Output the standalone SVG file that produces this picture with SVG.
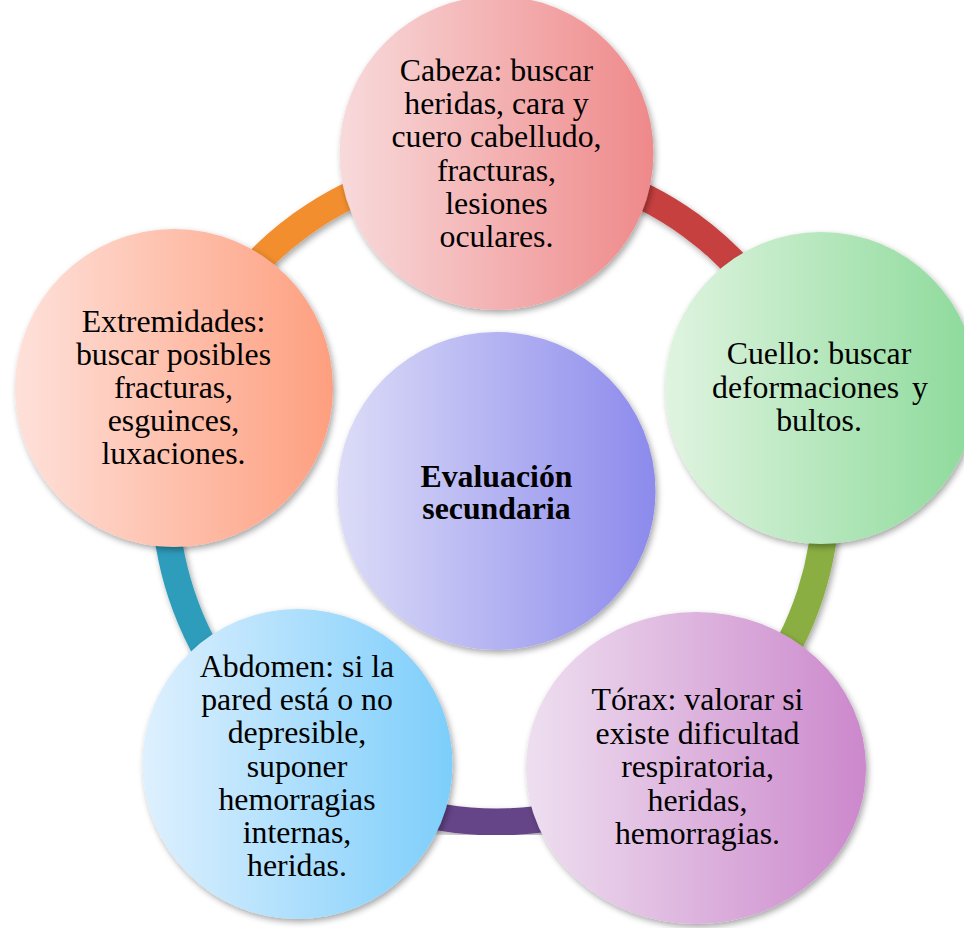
<svg xmlns="http://www.w3.org/2000/svg" width="964" height="928" viewBox="0 0 964 928">
  <defs>
    <filter id="sh" x="-20%" y="-20%" width="140%" height="140%">
      <feDropShadow dx="2" dy="3" stdDeviation="3" flood-color="#000" flood-opacity="0.35"/>
    </filter>
    <linearGradient id="gTop" x1="0" y1="0" x2="1" y2="0">
      <stop offset="0" stop-color="#f8dadb"/><stop offset="1" stop-color="#ef898a"/>
    </linearGradient>
    <linearGradient id="gRight" x1="0" y1="0" x2="1" y2="0">
      <stop offset="0" stop-color="#e0f4e0"/><stop offset="1" stop-color="#8cda9a"/>
    </linearGradient>
    <linearGradient id="gBR" x1="0" y1="0" x2="1" y2="0">
      <stop offset="0" stop-color="#eedff0"/><stop offset="1" stop-color="#cc88cc"/>
    </linearGradient>
    <linearGradient id="gBL" x1="0" y1="0" x2="1" y2="0">
      <stop offset="0" stop-color="#def0fe"/><stop offset="1" stop-color="#7dcefb"/>
    </linearGradient>
    <linearGradient id="gLeft" x1="0" y1="0" x2="1" y2="0">
      <stop offset="0" stop-color="#fee1da"/><stop offset="1" stop-color="#fe9f7f"/>
    </linearGradient>
    <linearGradient id="gCenter" x1="0" y1="0" x2="1" y2="0">
      <stop offset="0" stop-color="#dcdcf8"/><stop offset="1" stop-color="#8c8aec"/>
    </linearGradient>
  </defs>
  <style>
    .band { fill: none; stroke-width: 27; filter: url(#sh); }
    .node { filter: url(#sh); }
    .t { font-family: "Liberation Serif", "Times New Roman", serif; font-size: 31.8px; fill: #000; text-anchor: middle; }
    .b { font-weight: bold; }
  </style>
  <rect width="964" height="928" fill="#fff"/>
  <g id="connectors">
    <path class="band" stroke="#f28e2f" d="M180.7 389.5 A330 330 0 0 1 496.5 162"/>
    <path class="band" stroke="#c73f3f" d="M496.5 162 A330 330 0 0 1 810.3 390"/>
    <path class="band" stroke="#8aae42" d="M810.3 390 A330 330 0 0 1 690.5 759"/>
    <path class="band" stroke="#654588" d="M690.5 759 A330 330 0 0 1 302.5 759"/>
    <path class="band" stroke="#2e9cbb" d="M302.5 759 A330 330 0 0 1 180.7 389.5"/>
  </g>
  <g id="center">
    <circle class="node" cx="496.5" cy="491" r="159" fill="url(#gCenter)"/>
    <text class="t b"><tspan x="496.5" y="487">Evaluación</tspan><tspan x="496.5" y="519">secundaria</tspan></text>
  </g>
  <g id="cabeza">
    <circle class="node" cx="496.5" cy="153" r="157" fill="url(#gTop)"/>
    <text class="t"><tspan x="496.5" y="81">Cabeza: buscar</tspan><tspan x="496.5" y="114.2">heridas, cara y</tspan><tspan x="496.5" y="147.4">cuero cabelludo,</tspan><tspan x="496.5" y="180.6">fracturas,</tspan><tspan x="496.5" y="213.8">lesiones</tspan><tspan x="496.5" y="247">oculares.</tspan></text>
  </g>
  <g id="cuello">
    <circle class="node" cx="821" cy="388" r="156" fill="url(#gRight)"/>
    <text class="t"><tspan x="819" y="364">Cuello: buscar</tspan><tspan x="820" y="397.5" word-spacing="5">deformaciones y</tspan><tspan x="819" y="431">bultos.</tspan></text>
  </g>
  <g id="torax">
    <ellipse class="node" cx="696" cy="768" rx="170" ry="156" fill="url(#gBR)"/>
    <text class="t"><tspan x="697.5" y="710">Tórax: valorar si</tspan><tspan x="697.5" y="743.5">existe dificultad</tspan><tspan x="697.5" y="777">respiratoria,</tspan><tspan x="697.5" y="810.5">heridas,</tspan><tspan x="697.5" y="844">hemorragias.</tspan></text>
  </g>
  <g id="abdomen">
    <circle class="node" cx="297.5" cy="764" r="155" fill="url(#gBL)"/>
    <text class="t"><tspan x="297" y="677">Abdomen: si la</tspan><tspan x="297" y="710.2">pared está o no</tspan><tspan x="297" y="743.4">depresible,</tspan><tspan x="297" y="776.6">suponer</tspan><tspan x="297" y="809.8">hemorragias</tspan><tspan x="297" y="843">internas,</tspan><tspan x="297" y="876.2">heridas.</tspan></text>
  </g>
  <g id="extremidades">
    <circle class="node" cx="174" cy="388" r="159" fill="url(#gLeft)"/>
    <text class="t"><tspan x="173.5" y="332">Extremidades:</tspan><tspan x="173.5" y="365">buscar posibles</tspan><tspan x="173.5" y="398">fracturas,</tspan><tspan x="173.5" y="431">esguinces,</tspan><tspan x="173.5" y="464">luxaciones.</tspan></text>
  </g>
</svg>
